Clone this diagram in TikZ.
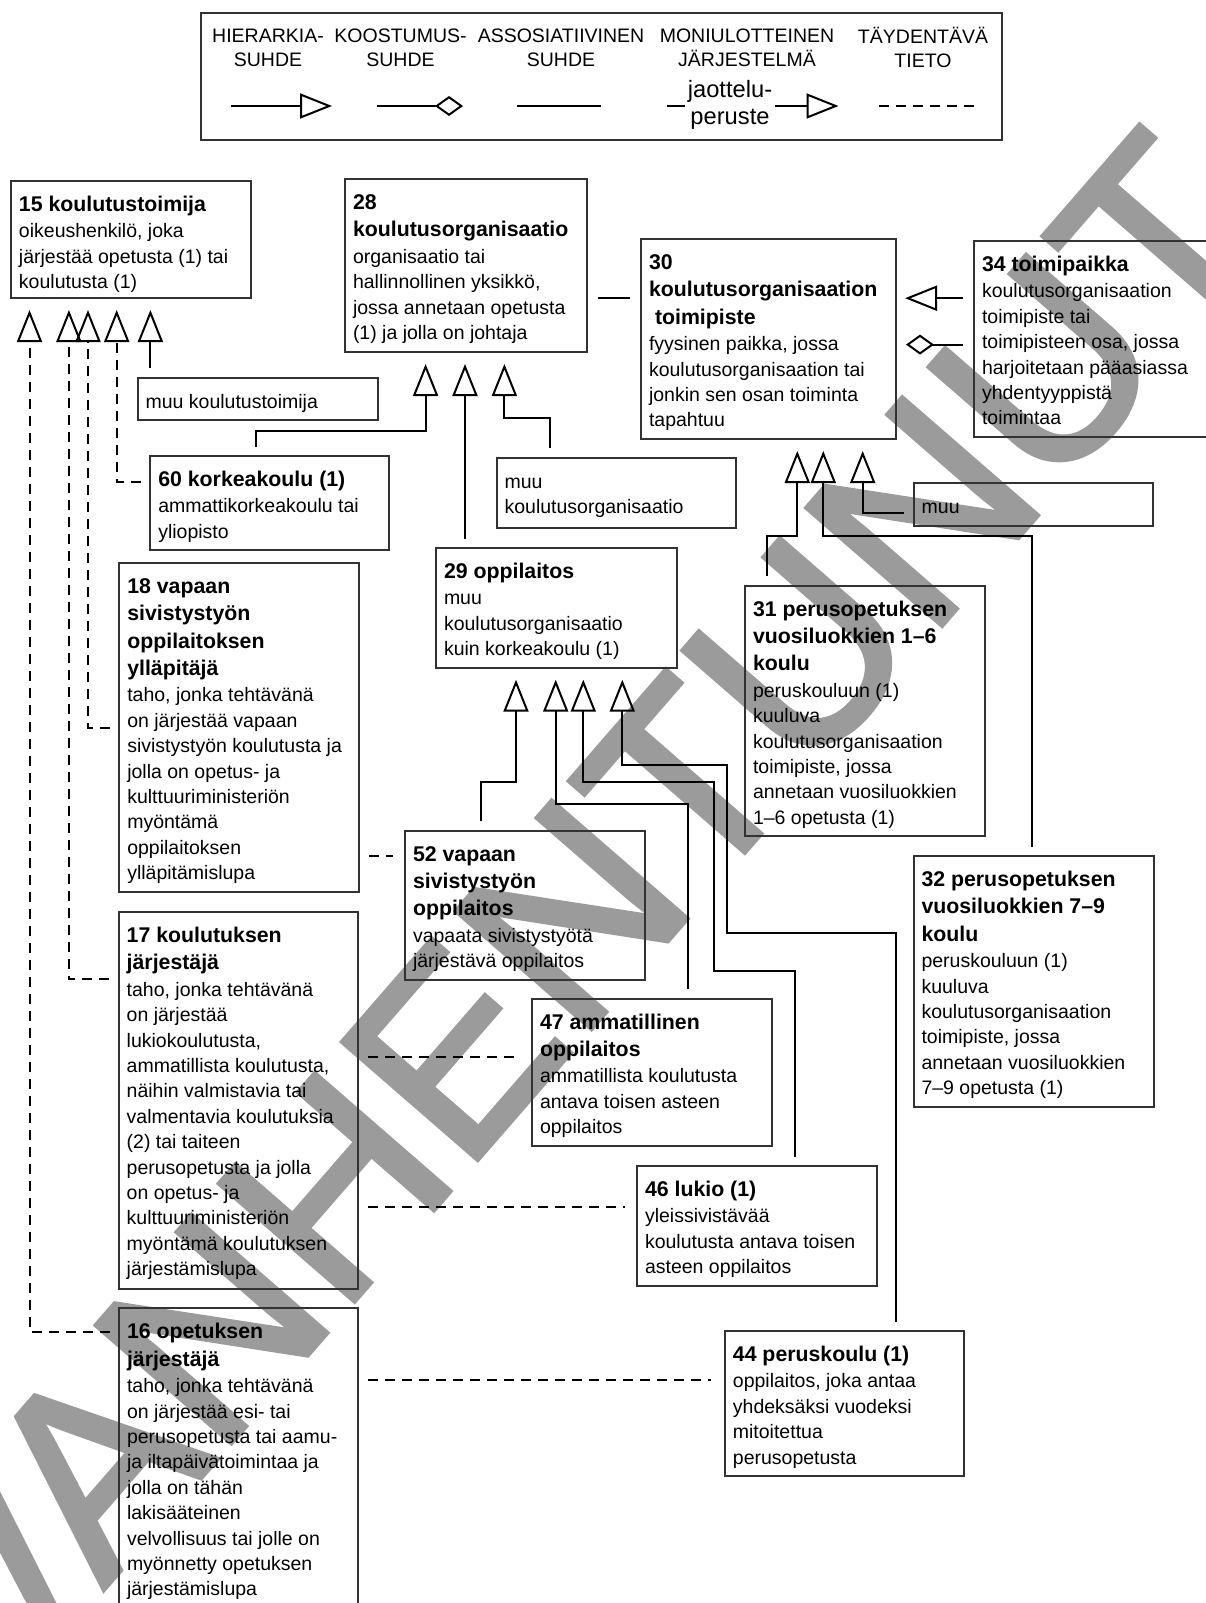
\documentclass[tikz,border=0pt]{standalone}
\usepackage{fontspec}
\setmainfont{Liberation Sans}
\newfontfamily\stampfont[FakeBold=2]{Liberation Sans}
\usetikzlibrary{arrows.meta}
\definecolor{frame}{RGB}{50,50,50}
\definecolor{stampgray}{RGB}{155,155,155}

% bold heading line inside a box
\newcommand{\hd}[1]{{\fontsize{21.3pt}{27.5pt}\selectfont\bfseries #1}}
% box body: width, height, lines
\newcommand{\boxtext}[3]{\parbox[c][#2pt][t]{#1pt}{\fontsize{19.5pt}{25.4pt}\selectfont
  \hspace*{8pt}\begin{tabular}[t]{@{}l@{}}\rule{0pt}{30.5pt}#3\end{tabular}}}

\tikzset{
  box/.style={draw=frame, line width=2pt, inner sep=0pt, anchor=north west},
  link/.style={line width=2pt},
  hier/.style={link, -{Triangle[open, length=32pt, width=25pt]}},
  aggr/.style={link, -{Diamond[open, length=28pt, width=20pt]}},
  extra/.style={link, dash pattern=on 10pt off 7pt},
  gaps/.style={shorten <=8.5pt, shorten >=11pt},
  keytext/.style={font=\fontsize{19.5pt}{24pt}\selectfont, align=center, inner sep=0pt},
}

\begin{document}
\begin{tikzpicture}[x=1pt, y=-1pt]
  \useasboundingbox (0,0) rectangle (1206,1603);
  \clip (0,0) rectangle (1206,1603);
  \fill[white] (0,0) rectangle (1206,1603);

  % watermark
  \node[rotate=49, text=stampgray, inner sep=0pt,
    font=\stampfont\fontsize{260pt}{260pt}\selectfont] (stamp) at (574,914) {VANHENTUNUT};

  % legend
  \node[box, minimum width=801pt, minimum height=127pt] (key) at (200,12) {};
  \node[keytext] (k1) at (268,47.5) {HIERARKIA-\\SUHDE};
  \node[keytext] (k2) at (400.5,47.5) {KOOSTUMUS-\\SUHDE};
  \node[keytext] (k3) at (561,47.5) {ASSOSIATIIVINEN\\SUHDE};
  \node[keytext] (k4) at (747,47.5) {MONIULOTTEINEN\\JÄRJESTELMÄ};
  \node[keytext] (k5) at (923,47.5) {TÄYDENTÄVÄ\\TIETO};
  \node[keytext, font=\fontsize{23.7pt}{27pt}\selectfont, inner xsep=3pt] (jp) at (730,105) {jaottelu-\\peruste};
  \coordinate (h1) at (230.8,106);  \coordinate (h2) at (332,106);
  \coordinate (a1) at (377,106);    \coordinate (a2) at (463,106);
  \coordinate (s1) at (517,106);    \coordinate (s2) at (600.6,106);
  \coordinate (m1) at (667,106);    \coordinate (m2) at (838.5,106);
  \coordinate (t1) at (879,106);    \coordinate (t2) at (975,106);
  \draw[hier] (h1) -- (h2);
  \draw[aggr] (a1) -- (a2);
  \draw[link] (s1) -- (s2);
  \draw[link] (m1) -- (jp.west |- m1);
  \draw[hier] (jp.east |- m2) -- (m2);
  \draw[extra] (t1) -- (t2);

  % boxes
  \node[box] (b15) at (10,180) {\boxtext{239.5}{117}{\hd{15 koulutustoimija}\\[1pt]
    oikeushenkilö, joka\\ järjestää opetusta (1) tai\\ koulutusta (1)}};
  \node[box] (b28) at (344,178) {\boxtext{241.5}{173}{\hd{28}\\[2pt]\hd{koulutusorganisaatio}\\[1pt]
    organisaatio tai\\ hallinnollinen yksikkö,\\ jossa annetaan opetusta\\ (1) ja jolla on johtaja}};
  \node[box] (b30) at (640,238) {\boxtext{255}{200}{\hd{30}\\[2pt]\hd{koulutusorganisaation}\\[2pt]
    \hd{\hspace{6pt}toimipiste}\\[1pt] fyysinen paikka, jossa\\ koulutusorganisaation tai\\
    jonkin sen osan toiminta\\ tapahtuu}};
  \node[box] (b34) at (973,240) {\boxtext{260}{196.4}{\hd{34 toimipaikka}\\[1pt]
    koulutusorganisaation\\ toimipiste tai\\ toimipisteen osa, jossa\\ harjoitetaan pääasiassa\\
    yhdentyyppistä\\ toimintaa}};
  \node[box] (muuTmj) at (136.6,376.7) {\boxtext{240.4}{42.6}{muu koulutustoimija}};
  \node[box] (b60) at (149.3,455) {\boxtext{239}{94.3}{\hd{60 korkeakoulu (1)}\\[1pt]
    ammattikorkeakoulu tai\\ yliopisto}};
  \node[box] (muuOrg) at (495.6,456.7) {\boxtext{239.4}{70}{muu\\ koulutusorganisaatio}};
  \node[box] (muu30) at (912.7,482) {\boxtext{239.3}{42.9}{muu}};
  \node[box] (b29) at (435,547) {\boxtext{240.7}{119.7}{\hd{29 oppilaitos}\\[1pt]
    muu\\ koulutusorganisaatio\\ kuin korkeakoulu (1)}};
  \node[box] (b18) at (118.3,561.7) {\boxtext{239.7}{329.3}{\hd{18 vapaan}\\[2pt]
    \hd{sivistystyön}\\[2pt]\hd{oppilaitoksen}\\[2pt]\hd{ylläpitäjä}\\[1pt]
    taho, jonka tehtävänä\\ on järjestää vapaan\\ sivistystyön koulutusta ja\\
    jolla on opetus- ja\\ kulttuuriministeriön\\ myöntämä\\ oppilaitoksen\\ ylläpitämislupa}};
  \node[box] (b31) at (744,584.6) {\boxtext{240}{250.4}{\hd{31 perusopetuksen}\\[2pt]
    \hd{vuosiluokkien 1–6}\\[2pt]\hd{koulu}\\[1pt] peruskouluun (1)\\ kuuluva\\
    koulutusorganisaation\\ toimipiste, jossa\\ annetaan vuosiluokkien\\ 1–6 opetusta (1)}};
  \node[box] (b52) at (404,829.6) {\boxtext{240}{149}{\hd{52 vapaan}\\[2pt]
    \hd{sivistystyön}\\[2pt]\hd{oppilaitos}\\[1pt] vapaata sivistystyötä\\ järjestävä oppilaitos}};
  \node[box] (b32) at (912.5,855) {\boxtext{240.3}{250.8}{\hd{32 perusopetuksen}\\[2pt]
    \hd{vuosiluokkien 7–9}\\[2pt]\hd{koulu}\\[1pt] peruskouluun (1)\\ kuuluva\\
    koulutusorganisaation\\ toimipiste, jossa\\ annetaan vuosiluokkien\\ 7–9 opetusta (1)}};
  \node[box] (b17) at (117.7,911) {\boxtext{239.5}{376.7}{\hd{17 koulutuksen}\\[2pt]
    \hd{järjestäjä}\\[1pt] taho, jonka tehtävänä\\ on järjestää\\ lukiokoulutusta,\\
    ammatillista koulutusta,\\ näihin valmistavia tai\\ valmentavia koulutuksia\\
    (2) tai taiteen\\ perusopetusta ja jolla\\ on opetus- ja\\ kulttuuriministeriön\\
    myöntämä koulutuksen\\ järjestämislupa}};
  \node[box] (b47) at (531,997.5) {\boxtext{239.7}{147.6}{\hd{47 ammatillinen}\\[2pt]
    \hd{oppilaitos}\\[1pt] ammatillista koulutusta\\ antava toisen asteen\\ oppilaitos}};
  \node[box] (b46) at (636,1165) {\boxtext{239.6}{120}{\hd{46 lukio (1)}\\[1pt]
    yleissivistävää\\ koulutusta antava toisen\\ asteen oppilaitos}};
  \node[box] (b16) at (118,1307.3) {\boxtext{239}{320}{\hd{16 opetuksen}\\[2pt]
    \hd{järjestäjä}\\[1pt] taho, jonka tehtävänä\\ on järjestää esi- tai\\
    perusopetusta tai aamu-\\ ja iltapäivätoimintaa ja\\ jolla on tähän\\ lakisääteinen\\
    velvollisuus tai jolle on\\ myönnetty opetuksen\\ järjestämislupa}};
  \node[box] (b44) at (723.9,1330) {\boxtext{239.3}{145}{\hd{44 peruskoulu (1)}\\[1pt]
    oppilaitos, joka antaa\\ yhdeksäksi vuodeksi\\ mitoitettua\\ perusopetusta}};

  % hierarchy to 15
  \draw[hier, gaps] (150.4,0 |- muuTmj.north) -- (150.4,0 |- b15.south);
  \draw[hier, extra, gaps] (b60.west |- 0,481.7) -| (116.7,0 |- b15.south);
  \draw[hier, extra, gaps] (b18.west |- 0,728.3) -| (88,0 |- b15.south);
  \draw[hier, extra, gaps] (b17.west |- 0,979.3) -| (68.9,0 |- b15.south);
  \draw[hier, extra, gaps] (b16.west |- 0,1331.7) -| (29.5,0 |- b15.south);

  % hierarchy to 28
  \draw[hier, gaps] (256.4,0 |- b60.north) |- (425.6,430.7) -- (425.6,0 |- b28.south);
  \draw[hier, gaps] (465,0 |- b29.north) -- (465,0 |- b28.south);
  \draw[hier, gaps] (550.3,0 |- muuOrg.north) |- (504.4,418.3) -- (504.4,0 |- b28.south);

  % 28, 34 and 30
  \draw[link, shorten <=10pt, shorten >=10pt] (b28.east |- 0,298.3) -- (b30.west |- 0,298.3);
  \draw[hier, shorten <=10pt, shorten >=8pt] (b34.west |- 0,298.2) -- (b30.east |- 0,298.2);
  \draw[aggr, shorten <=10pt, shorten >=9pt] (b34.west |- 0,344.6) -- (b30.east |- 0,344.6);
  \draw[hier, gaps] (muu30.west |- 0,513.2) -| (862.7,0 |- b30.south);
  \draw[hier, gaps] (767,0 |- b31.north) |- (797.3,536.4) -- (797.3,0 |- b30.south);
  \draw[hier, gaps] (1032.3,0 |- b32.north) |- (823.3,536.4) -- (823.3,0 |- b30.south);

  % hierarchy to 29
  \draw[hier, gaps] (480.7,0 |- b52.north) |- (516,782) -- (516,0 |- b29.south);
  \draw[hier, gaps] (688.3,0 |- b47.north) |- (555.7,804) -- (555.7,0 |- b29.south);
  \draw[hier, gaps] (795,0 |- b46.north) |- (714.3,970.7) |- (583.3,782) -- (583.3,0 |- b29.south);
  \draw[hier, gaps] (895.7,0 |- b44.north) |- (726.8,932.7) |- (622.3,764.6) -- (622.3,0 |- b29.south);

  % supplementary links
  \draw[extra, shorten <=9pt, shorten >=11pt] (b18.east |- 0,856.4) -- (b52.west |- 0,856.4);
  \draw[extra, shorten <=9pt, shorten >=11pt] (b17.east |- 0,1057) -- (b47.west |- 0,1057);
  \draw[extra, shorten <=9pt, shorten >=11pt] (b17.east |- 0,1207.3) -- (b46.west |- 0,1207.3);
  \draw[extra, shorten <=9pt, shorten >=13pt] (b16.east |- 0,1380) -- (b44.west |- 0,1380);
\end{tikzpicture}
\end{document}
